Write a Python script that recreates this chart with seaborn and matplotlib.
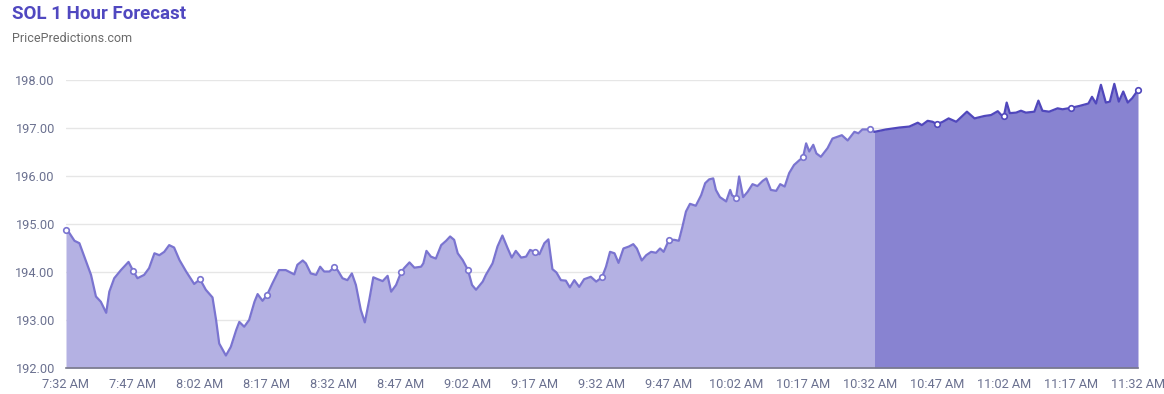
import matplotlib
matplotlib.use("Agg")
import matplotlib.pyplot as plt
import seaborn as sns
import pandas as pd
import numpy as np

# ---- data (minutes after 7:32 AM, price) ----
hist_min = [0, 0.7, 1.9, 3, 4.1, 5.6, 6.7, 7.8, 9, 9.7, 10.8, 12.3, 13.4, 14, 15, 16, 17.5, 18.6,
            19.8, 20.9, 22, 23.1, 24.2, 25.4, 26.9, 28.7, 30, 31.3, 32.8, 33.6, 34.3, 35.8, 36.9,
            38.1, 38.8, 39.9, 41, 42.2, 42.9, 44, 45, 46.2, 47.7, 49.2, 51.1, 51.8, 53, 53.7, 54.8,
            56, 56.9, 57.8, 59, 60, 60.8, 61.9, 63, 64, 64.9, 66, 66.9, 67.9, 68.8, 69.8, 70.9, 72,
            72.8, 73.9, 75, 75.7, 76.9, 78, 79.5, 80, 80.7, 81.7, 82.8, 84, 85.1, 86, 86.9, 87.7,
            88.8, 90, 90.9, 91.8, 93.3, 94, 95.5, 96.6, 97.7, 98.9, 99.8, 100.7, 101.9, 103, 103.9,
            105, 106, 107.1, 108, 108.9, 109.8, 110.8, 111.9, 112.8, 113.8, 114.9, 116, 117.5,
            118.7, 120, 120.9, 121.8, 122.8, 123.7, 124.8, 126, 127, 127.8, 128.9, 129.9, 131,
            132.1, 133, 133.8, 135, 136.2, 137.2, 138, 138.8, 139.7, 141, 142.2, 143.1, 144, 144.9,
            145.5, 146.4, 147.8, 148.7, 149.1, 150, 150.7, 151.6, 152.6, 153.7, 154.8, 156, 156.8,
            157.8, 159, 159.9, 160.9, 161.9, 163, 164.2, 165, 165.7, 166.4, 167.3, 168, 169, 170.5,
            171.6, 173.7, 175, 176.5, 177.4, 178.3, 180, 181]
hist_val = [194.88, 194.82, 194.65, 194.60, 194.32, 193.94, 193.49, 193.38, 193.15, 193.59, 193.87,
            194.04, 194.15, 194.21, 194.03, 193.87, 193.94, 194.08, 194.39, 194.35, 194.42, 194.56,
            194.51, 194.25, 194.01, 193.75, 193.85, 193.63, 193.47, 193.00, 192.51, 192.26, 192.44,
            192.79, 192.96, 192.86, 193.00, 193.38, 193.54, 193.40, 193.52, 193.76, 194.04, 194.04,
            193.95, 194.15, 194.24, 194.18, 193.97, 193.94, 194.11, 194.01, 194.01, 194.10, 194.04,
            193.87, 193.83, 193.97, 193.73, 193.21, 192.95, 193.42, 193.89, 193.85, 193.81, 193.92,
            193.59, 193.73, 193.99, 194.08, 194.20, 194.09, 194.11, 194.18, 194.44, 194.32, 194.28,
            194.56, 194.65, 194.74, 194.67, 194.39, 194.25, 194.04, 193.73, 193.63, 193.80, 193.94,
            194.18, 194.53, 194.76, 194.49, 194.30, 194.44, 194.30, 194.32, 194.46, 194.42, 194.37,
            194.60, 194.68, 194.06, 193.99, 193.83, 193.82, 193.68, 193.83, 193.69, 193.85, 193.90,
            193.80, 193.89, 194.11, 194.42, 194.39, 194.19, 194.49, 194.53, 194.58, 194.49, 194.24,
            194.35, 194.42, 194.40, 194.49, 194.42, 194.67, 194.67, 194.65, 194.94, 195.26, 195.42,
            195.38, 195.60, 195.85, 195.93, 195.95, 195.71, 195.56, 195.47, 195.71, 195.60, 195.54,
            195.99, 195.56, 195.67, 195.83, 195.79, 195.90, 195.95, 195.71, 195.69, 195.83, 195.78,
            196.06, 196.23, 196.33, 196.39, 196.68, 196.51, 196.65, 196.47, 196.40, 196.58, 196.78,
            196.85, 196.74, 196.92, 196.89, 196.97, 196.97, 196.92]
fc_min = [181, 183.6, 186.6, 188.8, 190.7, 191.6, 192.9, 194, 195, 196.3, 197.6, 199.3, 201.7, 203.4,
          205.6, 207.1, 208.6, 209.4, 210, 210.6, 211.3, 212.7, 213.8, 214.9, 216.8, 217.7, 218.6,
          220.1, 222, 223.1, 225, 226.9, 228.9, 229.7, 230.6, 231.7, 232.8, 233.7, 234.7, 235.7,
          236.7, 237.7, 238.7, 240]
fc_val = [196.92, 196.97, 197.01, 197.03, 197.11, 197.06, 197.15, 197.13, 197.08, 197.13, 197.20,
          197.13, 197.34, 197.20, 197.25, 197.27, 197.35, 197.27, 197.26, 197.53, 197.31, 197.32,
          197.36, 197.32, 197.34, 197.57, 197.36, 197.34, 197.41, 197.39, 197.42, 197.46, 197.51,
          197.65, 197.51, 197.90, 197.53, 197.55, 197.92, 197.55, 197.76, 197.53, 197.62, 197.79]
tick_minutes = list(range(0, 241, 15))
tick_labels = ["7:32 AM", "7:47 AM", "8:02 AM", "8:17 AM", "8:32 AM", "8:47 AM", "9:02 AM",
               "9:17 AM", "9:32 AM", "9:47 AM", "10:02 AM", "10:17 AM", "10:32 AM", "10:47 AM",
               "11:02 AM", "11:17 AM", "11:32 AM"]
y_ticks = [192, 193, 194, 195, 196, 197, 198]

hist = pd.DataFrame({"t": hist_min, "v": hist_val})
fc = pd.DataFrame({"t": fc_min, "v": fc_val})
all_df = pd.concat([hist, fc]).drop_duplicates("t")
marks = all_df[all_df["t"].isin(tick_minutes)]

sns.set_theme(style="white")
plt.rcParams["font.family"] = ["Roboto", "DejaVu Sans"]

H_FILL, H_LINE = "#b4b1e3", "#7a74d0"
F_FILL, F_LINE = "#8883d1", "#5047bc"

fig = plt.figure(figsize=(11.64, 3.94), dpi=100)
ax = fig.add_axes([66 / 1164, 26 / 394, (1138 - 66) / 1164, (368 - 80) / 394])

ax.fill_between(hist["t"], hist["v"], 192, color=H_FILL, lw=0, zorder=1)
ax.fill_between(fc["t"], fc["v"], 192, color=F_FILL, lw=0, zorder=1)
sns.lineplot(data=hist, x="t", y="v", ax=ax, color=H_LINE, lw=1.6, zorder=3, estimator=None,
             sort=False, solid_joinstyle="round", solid_capstyle="round")
sns.lineplot(data=fc, x="t", y="v", ax=ax, color=F_LINE, lw=1.6, zorder=3, estimator=None,
             sort=False, solid_joinstyle="round", solid_capstyle="round")
hm = marks[marks["t"] <= 180]
fm = marks[marks["t"] > 180]
ax.scatter(hm["t"], hm["v"], s=16, facecolor="white", edgecolor=H_LINE, lw=1.2, zorder=4, clip_on=False)
ax.scatter(fm["t"], fm["v"], s=16, facecolor="white", edgecolor=F_LINE, lw=1.2, zorder=4, clip_on=False)

ax.set_xlim(0, 240)
ax.set_ylim(192, 198)
ax.set_xticks(tick_minutes)
ax.set_xticklabels(tick_labels)
ax.set_yticks(y_ticks)
ax.set_yticklabels([f"{v:.2f}" for v in y_ticks])
ax.yaxis.grid(True, color="#e6e6e6", lw=1)
ax.set_axisbelow(True)
for s in ["top", "right", "left"]:
    ax.spines[s].set_visible(False)
ax.spines["bottom"].set_color("#78798a")
ax.spines["bottom"].set_linewidth(1.2)
ax.spines["bottom"].set_zorder(5)
ax.tick_params(axis="x", colors="#78798a", length=5, width=1, labelcolor="#6b7190", labelsize=9.2, pad=2)
ax.tick_params(axis="y", length=0, labelcolor="#6b7190", labelsize=9.2, pad=8)
ax.set_xlabel("")
ax.set_ylabel("")

fig.text(12 / 1164, 1 - 14 / 394, "SOL 1 Hour Forecast", color="#5048c0", fontsize=13.5,
         fontweight="bold", va="center", ha="left")
fig.text(12 / 1164, 1 - 38 / 394, "PricePredictions.com", color="#6a6a6a", fontsize=9,
         va="center", ha="left")

fig.savefig("out.png", dpi=100)
